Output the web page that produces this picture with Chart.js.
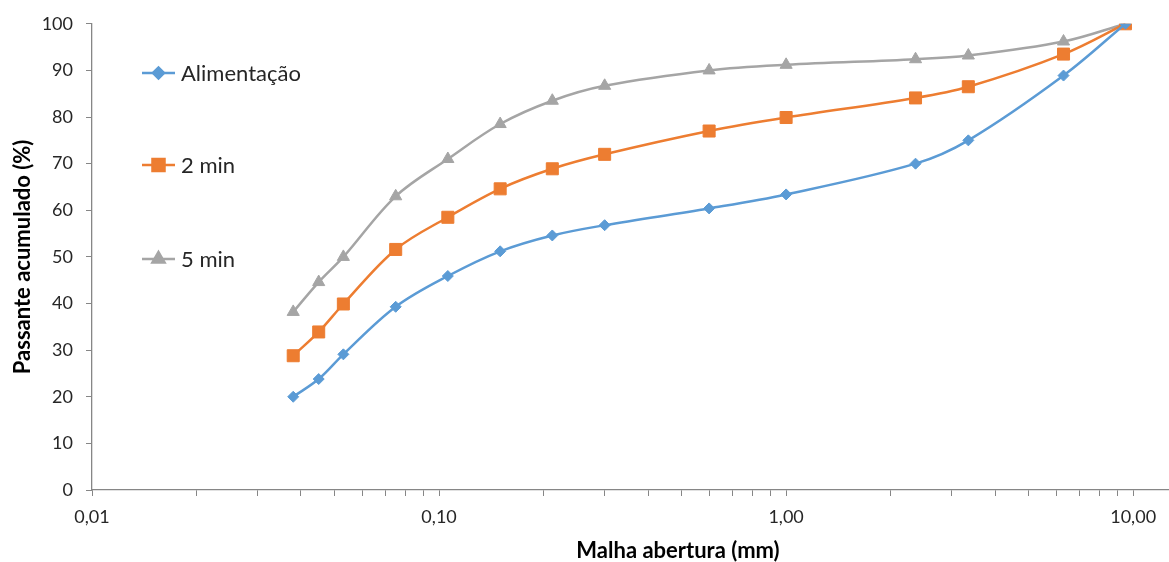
<!DOCTYPE html>
<html>
<head>
<meta charset="utf-8">
<script src="https://cdn.jsdelivr.net/npm/chart.js@4.4.1/dist/chart.umd.min.js"></script>
<style>
  html, body { margin: 0; padding: 0; background: #ffffff; }
  #wrap { width: 1169px; height: 562px; position: relative; }
</style>
</head>
<body>
<div id="wrap"><canvas id="chart"></canvas></div>
<script>
// sieve openings (mm) and cumulative passing (%)
const sieveOpenings = [0.038, 0.045, 0.053, 0.075, 0.106, 0.150, 0.212, 0.300, 0.600, 1.00, 2.36, 3.35, 6.30, 9.50];
const feedPassing   = [20.0, 23.8, 29.1, 39.3, 45.9, 51.2, 54.6, 56.8, 60.4, 63.4, 70.0, 75.0, 88.9, 100];
const twoMinPassing = [28.8, 33.9, 39.9, 51.6, 58.5, 64.6, 68.9, 72.0, 77.0, 79.9, 84.1, 86.5, 93.5, 100];
const fiveMinPassing = [38.2, 44.6, 50.0, 63.0, 71.0, 78.5, 83.5, 86.7, 90.0, 91.2, 92.4, 93.2, 96.2, 100];

const seriesLabels = ["Alimentação", "2 min", "5 min"];
const seriesColors = ["#5B9BD5", "#ED7D31", "#A5A5A5"];

const xTickValues = [0.01, 0.02, 0.03, 0.04, 0.05, 0.06, 0.07, 0.08, 0.09,
                     0.1, 0.2, 0.3, 0.4, 0.5, 0.6, 0.7, 0.8, 0.9,
                     1, 2, 3, 4, 5, 6, 7, 8, 9, 10];
const xMajorTicks = [0.01, 0.1, 1, 10];

const xTitle = "Malha abertura (mm)";
const yTitle = "Passante acumulado (%)";

const FONT = "Lato, 'Open Sans', sans-serif";
const TEXT = "#262626";
const AXIS = "#868686";

function toPoints(values) {
  return sieveOpenings.map((x, i) => ({ x: x, y: values[i] }));
}

function makeDataset(i, values, style, radius) {
  return {
    label: seriesLabels[i],
    data: toPoints(values),
    borderColor: seriesColors[i],
    backgroundColor: seriesColors[i],
    pointBackgroundColor: seriesColors[i],
    pointBorderColor: seriesColors[i],
    pointBorderWidth: 1,
    pointStyle: style,
    pointRadius: radius,
    borderWidth: 2.5,
    tension: 0.35,
    fill: false,
  };
}

// legend drawn inside the plot, left side, as in the original
const insideLegend = {
  id: "insideLegend",
  afterDraw(chart) {
    const ctx = chart.ctx;
    const area = chart.chartArea;
    const rows = [73, 165, 259];
    ctx.save();
    chart.data.datasets.forEach((ds, i) => {
      const y = rows[i];
      const x0 = area.left + 50;
      ctx.strokeStyle = ds.borderColor;
      ctx.lineWidth = 2.5;
      ctx.beginPath();
      ctx.moveTo(x0, y);
      ctx.lineTo(x0 + 33, y);
      ctx.stroke();
      ctx.fillStyle = ds.backgroundColor;
      Chart.helpers.drawPoint(ctx, {
        pointStyle: ds.pointStyle,
        radius: ds.pointRadius,
        borderWidth: 1,
        rotation: 0,
      }, x0 + 16.5, y);
      ctx.fillStyle = TEXT;
      ctx.font = "22px " + FONT;
      ctx.textBaseline = "middle";
      ctx.textAlign = "left";
      ctx.fillText(ds.label, x0 + 39, y + 1);
    });

    // x axis title (sits right of centre in the original)
    ctx.font = "bold 22px " + FONT;
    ctx.textAlign = "center";
    ctx.textBaseline = "middle";
    ctx.fillStyle = "#000000";
    ctx.fillText(xTitle, 678, 551);
    ctx.restore();
  },
};

const ctx = document.getElementById("chart").getContext("2d");
new Chart(ctx, {
  type: "line",
  data: {
    datasets: [
      makeDataset(0, feedPassing, "rectRot", 5.5),
      makeDataset(1, twoMinPassing, "rect", 8.5),
      makeDataset(2, fiveMinPassing, "triangle", 7),
    ],
  },
  options: {
    responsive: true,
    maintainAspectRatio: false,
    animation: false,
    layout: { autoPadding: false, padding: { top: 21, right: 1, left: 0, bottom: 0 } },
    plugins: {
      legend: { display: false },
      tooltip: { enabled: false },
    },
    scales: {
      x: {
        type: "logarithmic",
        min: 0.01,
        max: 12.6,
        afterBuildTicks: (scale) => {
          scale.ticks = xTickValues.map((v) => ({ value: v, major: xMajorTicks.includes(v) }));
        },
        afterFit: (scale) => {
          scale.height = 72;
          scale.paddingRight = 0;
          scale.paddingLeft = 0;
        },
        border: { display: true, color: AXIS, width: 1.3 },
        grid: {
          display: true,
          drawOnChartArea: false,
          drawTicks: true,
          tickLength: 6,
          color: AXIS,
        },
        ticks: {
          autoSkip: false,
          maxRotation: 0,
          padding: 10,
          color: TEXT,
          font: { family: FONT, size: 18 },
          callback: (value) => xMajorTicks.includes(value) ? value.toFixed(2).replace(".", ",") : "",
        },
      },
      y: {
        type: "linear",
        min: 0,
        max: 100,
        afterFit: (scale) => { scale.width = 92; },
        border: { display: true, color: AXIS, width: 1.3 },
        grid: {
          display: true,
          drawOnChartArea: false,
          drawTicks: true,
          tickLength: 6,
          color: AXIS,
        },
        ticks: {
          stepSize: 10,
          padding: 13,
          color: TEXT,
          font: { family: FONT, size: 18 },
        },
        title: {
          display: true,
          text: yTitle,
          color: "#000000",
          font: { family: FONT, size: 22, weight: "bold" },
          padding: { top: 10, bottom: 0 },
        },
      },
    },
  },
  plugins: [insideLegend],
});
</script>
</body>
</html>
